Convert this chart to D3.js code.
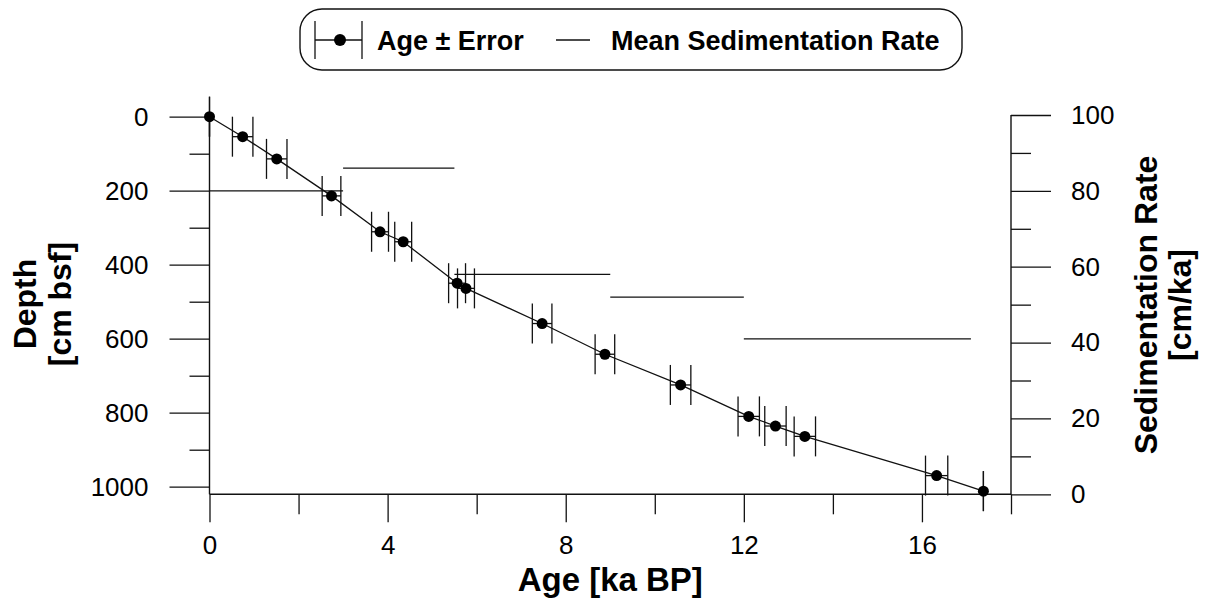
<!DOCTYPE html>
<html>
<head>
<meta charset="utf-8">
<script src="https://cdn.jsdelivr.net/npm/d3@7/dist/d3.min.js"></script>
<style>
  html, body { margin: 0; padding: 0; background: #fff; }
  svg { display: block; }
  text { font-family: "Liberation Sans", Arial, Helvetica, sans-serif; fill: #000; }
</style>
</head>
<body>
<svg id="chart" width="1205" height="601"></svg>
<script>
// Radiocarbon age model: calibrated ages with 1-sigma errors against core depth
const ages      = [0, 0.745, 1.51, 2.74, 3.83, 4.35, 5.56, 5.76, 7.47, 8.88, 10.58, 12.11, 12.71, 13.37, 16.33, 17.38];
const depths    = [0, 54, 114, 214, 311, 338, 450, 464, 559, 642, 725, 810, 836, 864, 970, 1012];
const ageErrors = [0, 0.23, 0.23, 0.21, 0.19, 0.19, 0.19, 0.19, 0.22, 0.22, 0.23, 0.24, 0.24, 0.24, 0.25, 0];

// Mean sedimentation rate per interval (cm/ka)
const rateFrom = [0, 3, 5.5, 9, 12];
const rateTo   = [3, 5.5, 9, 12, 17.1];
const rates    = [80, 86, 58, 52, 41];

// Tick values
const ageMajor   = [0, 4, 8, 12, 16];
const ageMinor   = [2, 6, 10, 14, 18];
const depthMajor = [0, 200, 400, 600, 800, 1000];
const depthMinor = [100, 300, 500, 700, 900];
const rateMajor  = [0, 20, 40, 60, 80, 100];
const rateMinor  = [10, 30, 50, 70, 90];

const svg = d3.select("#chart");
const ink = "#111";

const x      = d3.scaleLinear().domain([0, 18]).range([209.5, 1011]);
const yDepth = d3.scaleLinear().domain([0, 1000]).range([116.7, 486.7]);
const yRate  = d3.scaleLinear().domain([0, 100]).range([494.3, 115]);

const baseY = yRate(0);
const leftX = x(0), rightX = x(18);

function styleAxis(g, fontSize) {
  g.select(".domain").remove();
  g.selectAll(".tick line").attr("stroke", ink).attr("stroke-width", 1.3);
  g.selectAll(".tick text").attr("font-size", fontSize)
    .attr("font-family", '"Liberation Sans", Arial, sans-serif').attr("fill", "#000");
}

// Bottom axis (age)
svg.append("g").attr("transform", `translate(0,${baseY})`)
  .call(d3.axisBottom(x).tickValues(ageMinor).tickSize(20).tickFormat(""))
  .call(g => styleAxis(g, 26));
svg.append("g").attr("transform", `translate(0,${baseY})`)
  .call(d3.axisBottom(x).tickValues(ageMajor).tickSize(28).tickPadding(13).tickFormat(d3.format("d")))
  .call(g => styleAxis(g, 26));

// Left axis (depth)
svg.append("g").attr("transform", `translate(${leftX},0)`)
  .call(d3.axisLeft(yDepth).tickValues(depthMinor).tickSize(20).tickFormat(""))
  .call(g => styleAxis(g, 26));
svg.append("g").attr("transform", `translate(${leftX},0)`)
  .call(d3.axisLeft(yDepth).tickValues(depthMajor).tickSize(40).tickPadding(21).tickFormat(d3.format("d")))
  .call(g => styleAxis(g, 26));

// Right axis (sedimentation rate)
svg.append("g").attr("transform", `translate(${rightX},0)`)
  .call(d3.axisRight(yRate).tickValues(rateMinor).tickSize(20).tickFormat(""))
  .call(g => styleAxis(g, 26));
svg.append("g").attr("transform", `translate(${rightX},0)`)
  .call(d3.axisRight(yRate).tickValues(rateMajor).tickSize(40).tickPadding(20).tickFormat(d3.format("d")))
  .call(g => styleAxis(g, 26));

// Axis lines
const axes = svg.append("g").attr("stroke", ink).attr("stroke-width", 1.4);
axes.append("line").attr("x1", leftX).attr("x2", rightX).attr("y1", baseY).attr("y2", baseY);
axes.append("line").attr("x1", leftX).attr("x2", leftX).attr("y1", yDepth(0)).attr("y2", baseY);
axes.append("line").attr("x1", rightX).attr("x2", rightX).attr("y1", yRate(100)).attr("y2", baseY);

// Sedimentation rate segments
svg.append("g").selectAll("line").data(rates).join("line")
  .attr("x1", (d, i) => x(rateFrom[i]))
  .attr("x2", (d, i) => x(rateTo[i]))
  .attr("y1", d => yRate(d))
  .attr("y2", d => yRate(d))
  .attr("stroke", ink).attr("stroke-width", 1.3);

// Age-depth line
const pts = ages.map((a, i) => [a, depths[i], ageErrors[i]]);
svg.append("path").datum(pts)
  .attr("fill", "none").attr("stroke", ink).attr("stroke-width", 1.3)
  .attr("d", d3.line().x(d => x(d[0])).y(d => yDepth(d[1])));

// Error bars: horizontal span with tall end caps
const capH = 20;
const eb = svg.append("g").attr("stroke", ink).attr("stroke-width", 1.3);
pts.forEach(d => {
  const cy = yDepth(d[1]);
  const x0 = x(d[0] - d[2]), x1 = x(d[0] + d[2]);
  eb.append("line").attr("x1", x0).attr("x2", x1).attr("y1", cy).attr("y2", cy);
  eb.append("line").attr("x1", x0).attr("x2", x0).attr("y1", cy - capH).attr("y2", cy + capH);
  eb.append("line").attr("x1", x1).attr("x2", x1).attr("y1", cy - capH).attr("y2", cy + capH);
});

// Points
svg.append("g").selectAll("circle").data(pts).join("circle")
  .attr("cx", d => x(d[0])).attr("cy", d => yDepth(d[1])).attr("r", 5.5).attr("fill", "#000");

// Axis titles
svg.append("text").attr("x", x(9)).attr("y", 591).attr("text-anchor", "middle")
  .attr("font-size", 33).attr("font-weight", "bold").text("Age [ka BP]");

const leftTitle = svg.append("g").attr("font-size", 32).attr("font-weight", "bold");
leftTitle.append("text").attr("transform", "translate(36,304) rotate(-90)")
  .attr("text-anchor", "middle").text("Depth");
leftTitle.append("text").attr("transform", "translate(71,304) rotate(-90)")
  .attr("text-anchor", "middle").text("[cm bsf]");

const rightTitle = svg.append("g").attr("font-size", 32).attr("font-weight", "bold");
rightTitle.append("text").attr("transform", "translate(1157,305) rotate(-90)")
  .attr("text-anchor", "middle").text("Sedimentation Rate");
rightTitle.append("text").attr("transform", "translate(1191,305) rotate(-90)")
  .attr("text-anchor", "middle").text("[cm/ka]");

// Legend
const lg = svg.append("g");
lg.append("rect").attr("x", 300).attr("y", 9).attr("width", 662).attr("height", 61)
  .attr("rx", 22).attr("ry", 22).attr("fill", "#fff").attr("stroke", ink).attr("stroke-width", 1.4);
const ly = 40;
const lsym = lg.append("g").attr("stroke", ink).attr("stroke-width", 1.3);
lsym.append("line").attr("x1", 315).attr("x2", 362).attr("y1", ly).attr("y2", ly);
lsym.append("line").attr("x1", 315).attr("x2", 315).attr("y1", ly - 19).attr("y2", ly + 19);
lsym.append("line").attr("x1", 362).attr("x2", 362).attr("y1", ly - 19).attr("y2", ly + 19);
lg.append("circle").attr("cx", 340).attr("cy", ly).attr("r", 6).attr("fill", "#000");
lg.append("text").attr("x", 377).attr("y", ly + 10).attr("font-size", 27).attr("font-weight", "bold")
  .text("Age ± Error");
lg.append("line").attr("x1", 556).attr("x2", 590).attr("y1", ly).attr("y2", ly)
  .attr("stroke", ink).attr("stroke-width", 1.3);
lg.append("text").attr("x", 611).attr("y", ly + 10).attr("font-size", 27).attr("font-weight", "bold")
  .text("Mean Sedimentation Rate");
</script>
</body>
</html>
